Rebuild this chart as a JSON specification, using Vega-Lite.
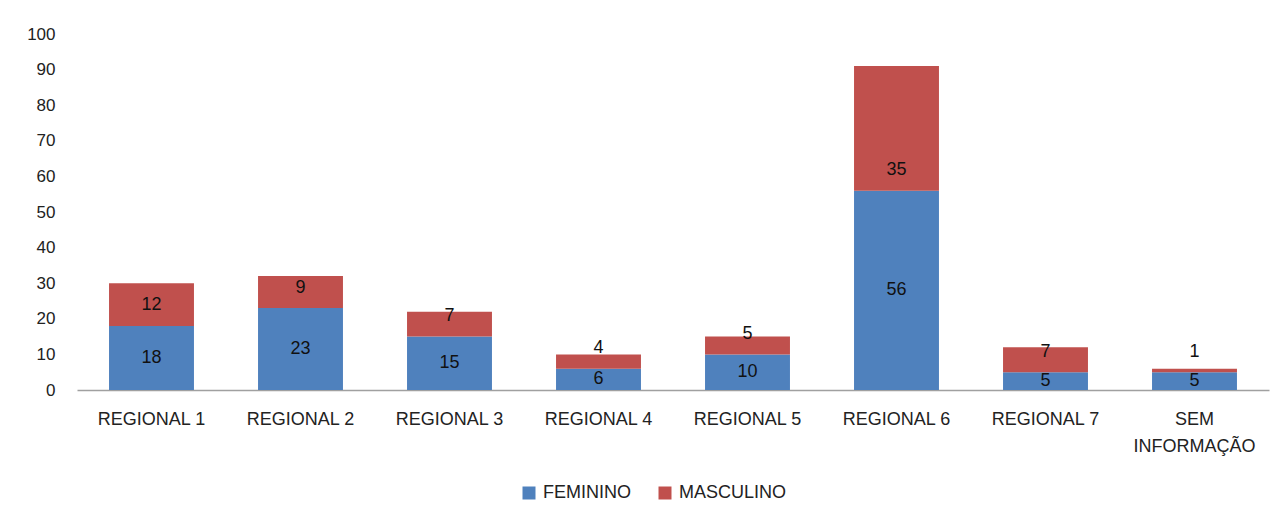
{
  "$schema": "https://vega.github.io/schema/vega-lite/v6.json",
  "width": 1192,
  "height": 356,
  "autosize": {"type": "none"},
  "padding": {"left": 77, "top": 34, "right": 12, "bottom": 129},
  "background": "white",
  "config": {
    "view": {"stroke": null},
    "font": "Liberation Sans",
    "axis": {"labelFont": "Liberation Sans", "labelFontSize": 18, "labelColor": "#222222"},
    "axisY": {"labelOverlap": false, "labelBound": false, "labelFlush": false, "domain": false, "ticks": false, "grid": false, "labelPadding": 22, "title": null},
    "legend": {"labelFont": "Liberation Sans", "labelFontSize": 18, "labelColor": "#222222"}
  },
  "data": {
    "values": [
      {"regional": "REGIONAL 1", "sexo": "FEMININO", "n": 18},
      {"regional": "REGIONAL 1", "sexo": "MASCULINO", "n": 12},
      {"regional": "REGIONAL 2", "sexo": "FEMININO", "n": 23},
      {"regional": "REGIONAL 2", "sexo": "MASCULINO", "n": 9},
      {"regional": "REGIONAL 3", "sexo": "FEMININO", "n": 15},
      {"regional": "REGIONAL 3", "sexo": "MASCULINO", "n": 7},
      {"regional": "REGIONAL 4", "sexo": "FEMININO", "n": 6},
      {"regional": "REGIONAL 4", "sexo": "MASCULINO", "n": 4},
      {"regional": "REGIONAL 5", "sexo": "FEMININO", "n": 10},
      {"regional": "REGIONAL 5", "sexo": "MASCULINO", "n": 5},
      {"regional": "REGIONAL 6", "sexo": "FEMININO", "n": 56},
      {"regional": "REGIONAL 6", "sexo": "MASCULINO", "n": 35},
      {"regional": "REGIONAL 7", "sexo": "FEMININO", "n": 5},
      {"regional": "REGIONAL 7", "sexo": "MASCULINO", "n": 7},
      {"regional": "SEM INFORMAÇÃO", "sexo": "FEMININO", "n": 5},
      {"regional": "SEM INFORMAÇÃO", "sexo": "MASCULINO", "n": 1}
    ]
  },
  "transform": [
    {"stack": "n", "groupby": ["regional"], "sort": [{"field": "sexo", "order": "ascending"}], "as": ["y0", "y1"]}
  ],
  "encoding": {
    "x": {
      "field": "regional",
      "type": "nominal",
      "sort": null,
      "scale": {"paddingInner": 0.43, "paddingOuter": 0.215},
      "axis": {
        "title": null,
        "labelAngle": 0,
        "ticks": false,
        "domainColor": "#A0A0A0",
        "domainWidth": 1.5,
        "labelPadding": 20,
        "labelLineHeight": 27,
        "labelExpr": "datum.label == 'SEM INFORMAÇÃO' ? ['SEM', 'INFORMAÇÃO'] : datum.label"
      }
    }
  },
  "layer": [
    {
      "mark": {"type": "bar"},
      "encoding": {
        "y": {
          "field": "y1",
          "type": "quantitative",
          "scale": {"domain": [0, 100], "nice": false, "zero": true},
          "axis": {"values": [0, 10, 20, 30, 40, 50, 60, 70, 80, 90, 100], "labelOverlap": false, "labelBound": false, "labelFontSize": 17}
        },
        "y2": {"field": "y0"},
        "color": {
          "field": "sexo",
          "type": "nominal",
          "scale": {"domain": ["FEMININO", "MASCULINO"], "range": ["#4F81BD", "#C0504D"]},
          "legend": {
            "title": null,
            "orient": "none",
            "legendX": 443,
            "legendY": 450,
            "direction": "horizontal",
            "symbolType": "square",
            "symbolSize": 169,
            "symbolStrokeWidth": 0,
            "columnPadding": 25,
            "labelOffset": 5
          }
        }
      }
    },
    {
      "transform": [
        {"filter": "datum.sexo == 'FEMININO'"},
        {"fold": ["y0", "y1"], "as": ["k", "v"]},
        {"aggregate": [{"op": "mean", "field": "v", "as": "mid"}], "groupby": ["regional", "n"]}
      ],
      "mark": {"type": "text", "fontSize": 18, "color": "#111111", "baseline": "middle"},
      "encoding": {
        "y": {"field": "mid", "type": "quantitative", "stack": null, "axis": {"values": [0, 10, 20, 30, 40, 50, 60, 70, 80, 90, 100], "labelOverlap": false, "labelBound": false, "labelFontSize": 17}},
        "text": {"field": "n", "type": "quantitative"}
      }
    },
    {
      "transform": [{"filter": "datum.sexo == 'MASCULINO'"}],
      "mark": {"type": "text", "fontSize": 18, "color": "#111111", "baseline": "middle", "dy": -20.5},
      "encoding": {
        "y": {"field": "y0", "type": "quantitative", "stack": null, "axis": {"values": [0, 10, 20, 30, 40, 50, 60, 70, 80, 90, 100], "labelOverlap": false, "labelBound": false, "labelFontSize": 17}},
        "text": {"field": "n", "type": "quantitative"}
      }
    }
  ]
}
